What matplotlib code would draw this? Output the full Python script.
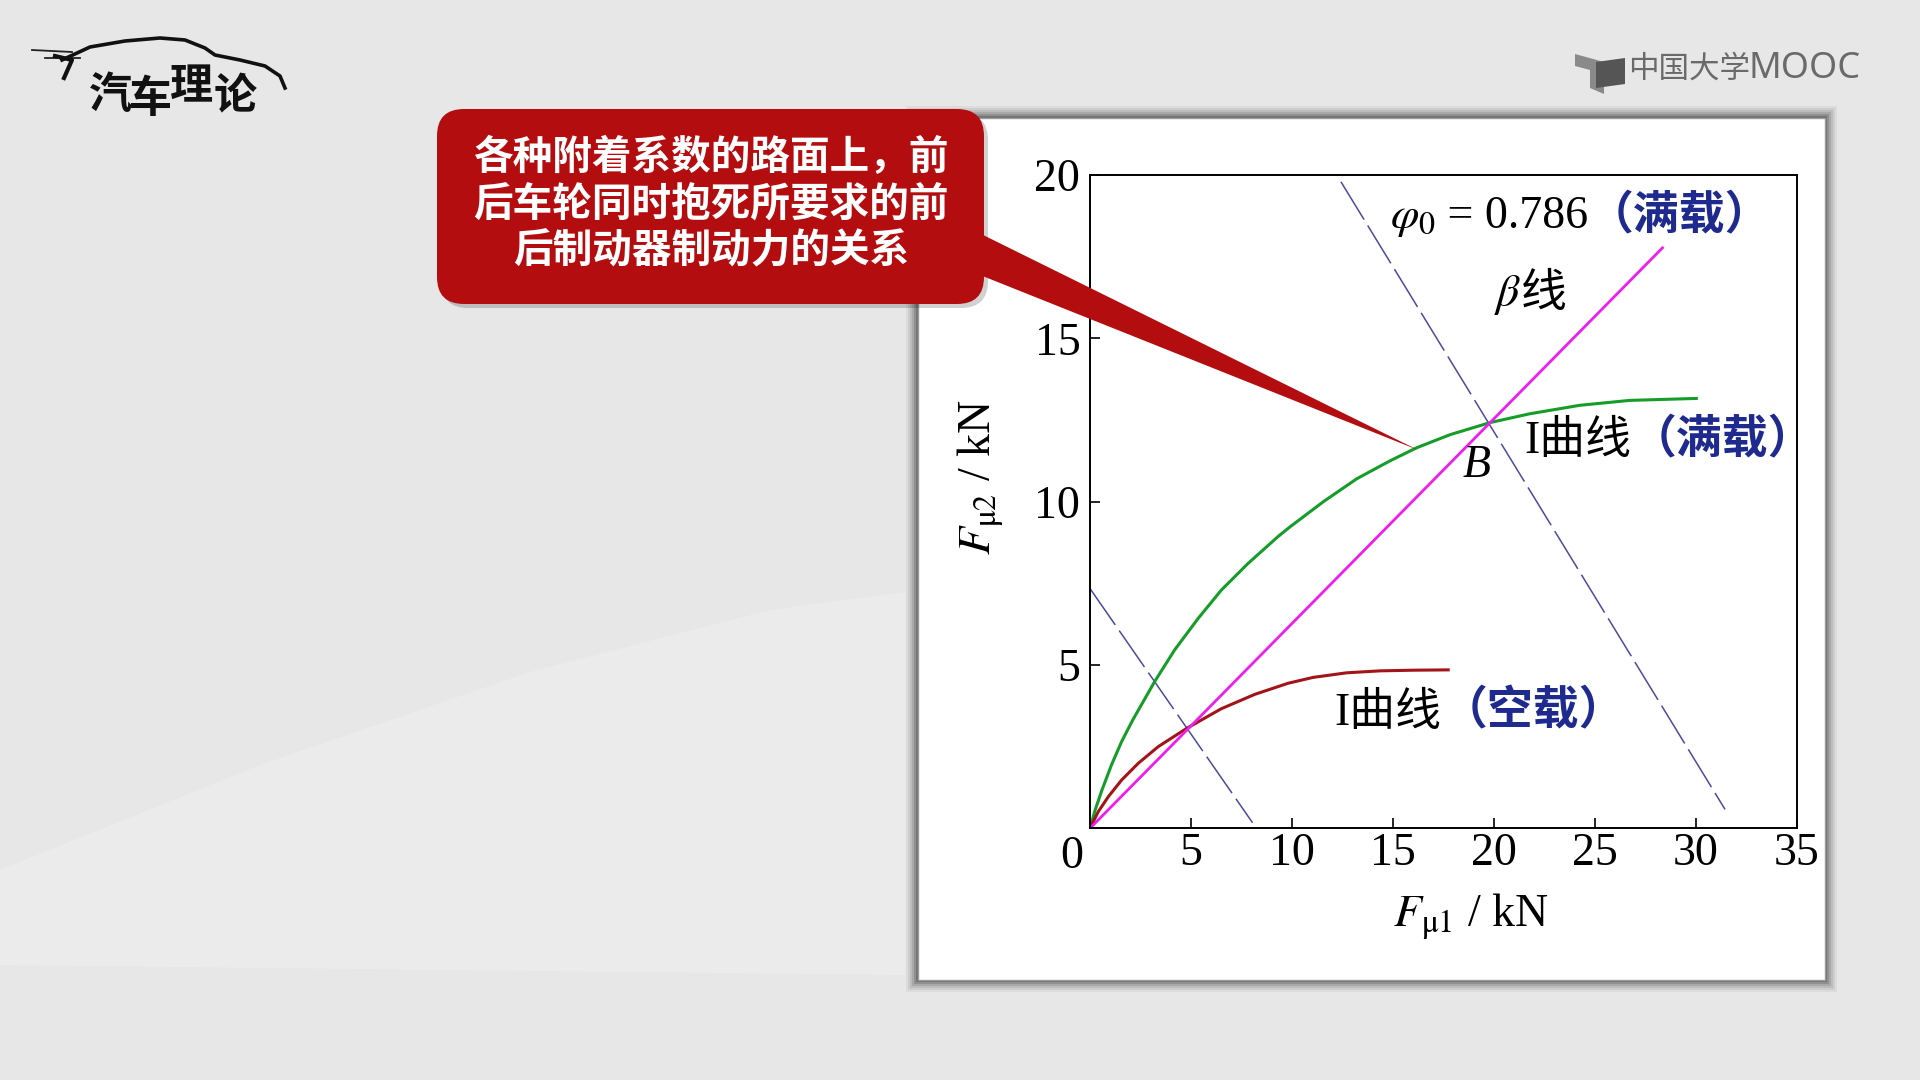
import matplotlib
matplotlib.use("Agg")
import matplotlib.pyplot as plt
from matplotlib.patches import FancyBboxPatch, Rectangle, Polygon
from matplotlib.offsetbox import TextArea, HPacker, AnnotationBbox

plt.rcParams['font.family'] = ['Liberation Serif', 'Noto Sans CJK SC']
plt.rcParams['mathtext.fontset'] = 'stix'

# ---- data (kN) ----
beta_x = [0, 28.4]
beta_y = [0, 17.8]

# I curve, full load
full_x = [0, 0.25, 0.58, 1.07, 1.57, 2.13, 3.20, 4.19, 5.35, 6.50, 7.83, 9.31,
          9.91, 11.56, 13.21, 14.86, 16.18, 17.83, 19.81, 21.78, 24.26, 26.73, 30.03]
full_y = [0, 0.55, 1.15, 1.95, 2.66, 3.33, 4.49, 5.46, 6.42, 7.29, 8.11, 8.93,
          9.23, 10.0, 10.7, 11.25, 11.65, 12.05, 12.42, 12.69, 12.95, 13.10, 13.16]

# I curve, empty
empty_x = [0, 0.41, 0.91, 1.57, 2.39, 3.38, 4.79, 6.50, 8.16, 9.81,
           11.05, 12.71, 14.36, 16.0, 17.74]
empty_y = [0, 0.51, 0.97, 1.48, 1.99, 2.50, 3.06, 3.66, 4.10, 4.44,
           4.62, 4.76, 4.82, 4.84, 4.85]

# phi lines (dashed)
phi_full_x = [12.43, 31.45]
phi_full_y = [19.79, 0.58]
phi_empty_x = [0, 8.05]
phi_empty_y = [7.34, 0.17]

xticks = [5, 10, 15, 20, 25, 30, 35]
yticks = [5, 10, 15, 20]

callout = "各种附着系数的路面上，前\n后车轮同时抱死所要求的前\n后制动器制动力的关系"

BLUE = '#1f2a8f'
CJK = ['Liberation Serif', 'Noto Sans CJK SC']
FS = 33

fig = plt.figure(figsize=(19.2, 10.8), dpi=100)
fig.patch.set_facecolor('#e7e7e8')

# background layer in pixel coords
bg = fig.add_axes([0, 0, 1, 1], zorder=0)
bg.set_xlim(0, 1920)
bg.set_ylim(1080, 0)
bg.axis('off')
bg.add_patch(Polygon([(0, 870), (260, 765), (530, 672), (770, 610), (905, 592),
                      (905, 975), (0, 965)], closed=True, fc='white', ec='none', alpha=0.2))

# chart panel with soft shadow
for i, a in enumerate([0.06, 0.08, 0.1, 0.14, 0.2, 0.3]):
    d = 12 - 2 * i
    bg.add_patch(Rectangle((918 - d, 118 - d), 907 + 2 * d, 862 + 2 * d,
                           fc='#303030', ec='none', alpha=a))
bg.add_patch(Rectangle((918, 118), 907, 862, fc='white', ec='#9a9a9a', lw=1))

# logo top-left
bg.plot([32, 72], [50, 52], color='#222222', lw=1.3)
bg.plot([45, 80], [58, 58], color='#222222', lw=1.3)
bg.plot([55, 72, 64], [56, 60, 78], color='#111111', lw=3)
roof_x = [62, 90, 125, 160, 185, 205, 215, 240, 265, 280, 285]
roof_y = [60, 47, 41, 38, 40, 48, 55, 60, 66, 76, 88]
bg.plot(roof_x, roof_y, color='#111111', lw=2.6)
for ch, (cx, cy) in zip("汽车理论", [(110, 95), (150, 99), (191, 86), (235, 96)]):
    bg.text(cx, cy, ch, fontsize=31, weight='heavy', family='Noto Sans CJK SC',
            ha='center', va='center', color='#111111')

# MOOC logo top-right
bg.add_patch(Polygon([(1575, 54), (1604, 62), (1604, 94), (1590, 88), (1590, 70), (1575, 66)],
                     closed=True, fc='#8a8a8a', ec='none'))
bg.add_patch(Polygon([(1596, 62), (1625, 58), (1625, 84), (1596, 88)],
                     closed=True, fc='#555555', ec='none'))
bg.text(1628, 69, "中国大学", fontsize=22, family='Noto Sans CJK SC', color='#6a6a6a',
        ha='left', va='center')
bg.text(1748, 69, "MOOC", fontsize=26, family='Noto Sans', weight='light', color='#6a6a6a',
        ha='left', va='center')

# ---- the chart ----
ax = fig.add_axes([1090 / 1920, 1 - 828.3 / 1080, 706.7 / 1920, 653.3 / 1080], zorder=2)
ax.set_xlim(0, 35)
ax.set_ylim(0, 20)

ax.plot(phi_full_x, phi_full_y, color='#4b4b9e', lw=1.1, dashes=(29, 4.5))
ax.plot(phi_empty_x, phi_empty_y, color='#4b4b9e', lw=1.1, dashes=(29, 4.5))
ax.plot(full_x, full_y, color='#169c28', lw=2.2, solid_joinstyle='round')
ax.plot(empty_x, empty_y, color='#a3141a', lw=2.2, solid_joinstyle='round')
ax.plot(beta_x, beta_y, color='#ee1fee', lw=2.0, solid_capstyle='butt')

ax.set_xticks(xticks)
ax.set_yticks(yticks)
ax.tick_params(direction='in', length=7, width=1.2, labelsize=FS, pad=3)
ax.tick_params(axis='y', pad=7)
for s in ax.spines.values():
    s.set_linewidth(1.4)
ax.text(-0.026, -0.044, "0", transform=ax.transAxes, fontsize=FS, ha='center', va='center')

ax.set_xlabel(r"$F_{\mathrm{\mu}1}$ / kN", fontsize=FS, va='center')
ax.xaxis.set_label_coords(0.539, -0.134)
ax.set_ylabel(r"$F_{\mathrm{\mu}2}$ / kN", fontsize=FS, va='center', rotation_mode='anchor')
ax.yaxis.set_label_coords(-0.156, 0.537)


def mixed(x, y, parts, size=FS):
    boxes = []
    for s, c, w in parts:
        boxes.append(TextArea(s, textprops=dict(color=c, fontsize=size, family=CJK, weight=w)))
    pack = HPacker(children=boxes, align='baseline', pad=0, sep=0)
    ab = AnnotationBbox(pack, (x, y), xycoords='data', box_alignment=(0, 0.5),
                        frameon=False, pad=0, annotation_clip=False)
    ax.add_artist(ab)


mixed(14.86, 18.72, [(r"$\varphi_0$", 'black', 'normal'), (" = 0.786", 'black', 'normal'),
                     ("（满载）", BLUE, 'bold')])
mixed(20.0, 16.32, [(r"$\beta$", 'black', 'normal'), ("线", 'black', 'normal')])
mixed(21.5, 11.86, [("I曲线", 'black', 'normal'), ("（满载）", BLUE, 'bold')])
mixed(12.12, 3.54, [("I曲线", 'black', 'normal'), ("（空载）", BLUE, 'bold')])
ax.text(19.16, 11.11, "B", fontsize=FS, style='italic', ha='center', va='center')

# ---- callout on top ----
top = fig.add_axes([0, 0, 1, 1], zorder=3)
top.set_xlim(0, 1920)
top.set_ylim(1080, 0)
top.axis('off')
top.patch.set_alpha(0)
RED = '#b30d10'
top.add_patch(FancyBboxPatch((441, 113), 547, 195, boxstyle="round,pad=0,rounding_size=27",
                             fc='#000000', ec='none', alpha=0.18))
top.add_patch(FancyBboxPatch((437, 109), 547, 195, boxstyle="round,pad=0,rounding_size=27",
                             fc=RED, ec='none'))
top.add_patch(Polygon([(975, 231), (1418, 450), (975, 273)], closed=True, fc=RED, ec='none'))
top.text(711, 204, callout, fontsize=28.5, weight='bold', family='Noto Sans CJK SC',
         color='white', ha='center', va='center', linespacing=1.18)

fig.savefig("out.png", dpi=100, facecolor=fig.get_facecolor())
